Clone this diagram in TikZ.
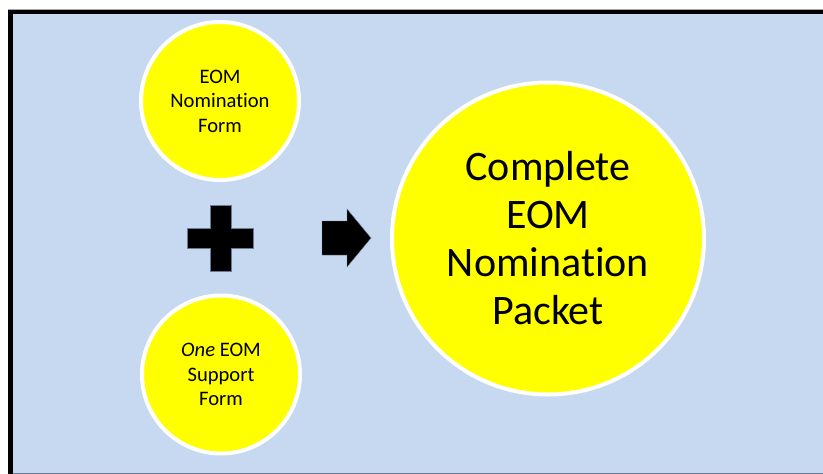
\documentclass[tikz,border=0pt]{standalone}
\usepackage{fontspec}
\setmainfont[Ligatures=NoCommon]{Carlito}
\definecolor{bgblue}{HTML}{C6D9F0}
\definecolor{sunyellow}{HTML}{FFFF00}
\definecolor{edgegray}{HTML}{6B7A99}
\tikzset{
  bubble/.style={circle, fill=sunyellow, draw=white, line width=4pt, align=center, inner sep=0pt},
  smallbubble/.style={bubble, minimum size=158pt, font=\fontsize{20.6}{24.6}\selectfont},
  bigbubble/.style={bubble, minimum size=312pt, font=\fontsize{42}{48}\selectfont},
  glyph/.style={fill=black, draw=edgegray, line width=0.4pt}
}
\begin{document}
\begin{tikzpicture}[x=1pt,y=-1pt]
\useasboundingbox (0,0) rectangle (823,474);
\fill[bgblue] (13,14) rectangle (823,474);
\draw[black, line width=5pt] (10.5,480) -- (10.5,11.5) -- (830,11.5);
\draw[edgegray, line width=1pt] (13,473.5) -- (823,473.5);
\draw[gray!70, line width=0.6pt] (8,9) -- (823,9);

\node[smallbubble] (form) at (220,101) {EOM\\Nomination\\Form};
\node[smallbubble] (support) at (221,374.5) {\textit{One} EOM\\Support\\Form};
\node[bigbubble] (packet) at (548,238.5) {Complete\\EOM\\Nomination\\Packet};

\fill[glyph] (210,205) -- (231,205) -- (231,228) -- (253,228) -- (253,248) -- (231,248) -- (231,271) -- (210,271) -- (210,248) -- (187,248) -- (187,228) -- (210,228) -- cycle;
\fill[glyph] (322,221) -- (347,221) -- (347,209) -- (371,238) -- (347,267) -- (347,255) -- (322,255) -- cycle;
\end{tikzpicture}
\end{document}
